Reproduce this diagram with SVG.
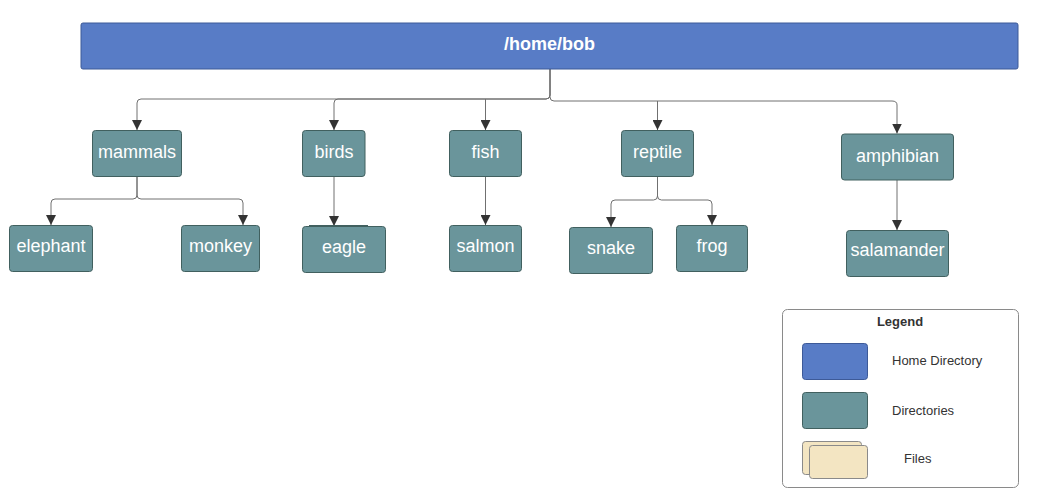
<svg xmlns="http://www.w3.org/2000/svg" width="1039" height="503" viewBox="0 0 1039 503">
<style>
.dir{fill:#6a959b;stroke:#41605f;stroke-width:1}
.home{fill:#587cc6;stroke:#3d5a98;stroke-width:1}
.file{fill:#f3e5c2;stroke:#8a8a8a;stroke-width:1}
.lbl{font-family:"Liberation Sans",Arial,sans-serif;font-size:18px;fill:#ffffff;text-anchor:middle;dominant-baseline:central}
.conn{fill:none;stroke:#707070;stroke-width:1}
.leg{font-family:"Liberation Sans",Arial,sans-serif;font-size:13px;fill:#333333;dominant-baseline:central}
</style>
<defs>
<marker id="arr" viewBox="0 0 10 10" refX="10" refY="5" markerWidth="10" markerHeight="10" markerUnits="userSpaceOnUse" orient="auto">
<path d="M0,0 L10,5 L0,10 Z" fill="#333333"/>
</marker>
</defs>
<rect width="1039" height="503" fill="#ffffff"/>
<g id="connectors">
<path class="conn" marker-end="url(#arr)" d="M550,69 L550,95 Q550,99 546,99 L141,99 Q137,99 137,103 L137,130"/>
<path class="conn" marker-end="url(#arr)" d="M550,69 L550,95 Q550,99 546,99 L338,99 Q334,99 334,103 L334,130"/>
<path class="conn" marker-end="url(#arr)" d="M485.5,99 L485.5,130"/>
<path class="conn" marker-end="url(#arr)" d="M550,69 L550,97 Q550,101 554,101 L892,101 Q897,101 897,105 L897,133.5"/>
<path class="conn" marker-end="url(#arr)" d="M657.5,101 L657.5,130"/>
<path class="conn" marker-end="url(#arr)" d="M137,176 L137,195 Q137,199 133,199 L55,199 Q51,199 51,203 L51,225"/>
<path class="conn" marker-end="url(#arr)" d="M137,176 L137,195 Q137,199 141,199 L239,199 Q243,199 243,203 L243,225"/>
<path class="conn" marker-end="url(#arr)" d="M334,176 L334,226"/>
<path class="conn" marker-end="url(#arr)" d="M485.5,176 L485.5,225"/>
<path class="conn" marker-end="url(#arr)" d="M657.5,176 L657.5,196 Q657.5,200 653.5,200 L615,200 Q611,200 611,204 L611,227"/>
<path class="conn" marker-end="url(#arr)" d="M657.5,176 L657.5,196 Q657.5,200 661.5,200 L708,200 Q712,200 712,204 L712,225"/>
<path class="conn" marker-end="url(#arr)" d="M897,180 L897,230"/>
</g>
<g id="home"><rect class="home" x="81" y="23" width="937" height="46" rx="2"/><text class="lbl" x="549.5" y="44" font-weight="bold">/home/bob</text></g>
<g id="mammals"><rect class="dir" x="92.5" y="130.5" width="89" height="46" rx="3"/><text class="lbl" x="137" y="152">mammals</text></g>
<g id="birds"><rect class="dir" x="302.5" y="130.5" width="62.5" height="46" rx="3"/><text class="lbl" x="334" y="152">birds</text></g>
<g id="fish"><rect class="dir" x="449.5" y="130.5" width="72" height="46" rx="3"/><text class="lbl" x="485.5" y="152">fish</text></g>
<g id="reptile"><rect class="dir" x="621.5" y="130.5" width="72" height="46" rx="3"/><text class="lbl" x="657.5" y="152">reptile</text></g>
<g id="amphibian"><rect class="dir" x="841.5" y="134" width="112" height="46" rx="3"/><text class="lbl" x="897.5" y="156">amphibian</text></g>
<g id="elephant"><rect class="dir" x="9.5" y="225.5" width="83" height="46" rx="3"/><text class="lbl" x="51" y="246">elephant</text></g>
<g id="monkey"><rect class="dir" x="181.5" y="225.5" width="78" height="46" rx="3"/><text class="lbl" x="220.5" y="246">monkey</text></g>
<g id="eagle"><line x1="309" y1="225.5" x2="368" y2="225.5" stroke="#41605f" stroke-width="1"/><rect class="dir" x="302.5" y="226.5" width="83" height="46" rx="3"/><text class="lbl" x="344" y="247">eagle</text></g>
<g id="salmon"><rect class="dir" x="449.5" y="225.5" width="72" height="46" rx="3"/><text class="lbl" x="485.5" y="246">salmon</text></g>
<g id="snake"><rect class="dir" x="569.5" y="227.5" width="83" height="46" rx="3"/><text class="lbl" x="611" y="248">snake</text></g>
<g id="frog"><rect class="dir" x="676.5" y="225.5" width="71" height="46" rx="3"/><text class="lbl" x="712" y="246">frog</text></g>
<g id="salamander"><rect class="dir" x="846.5" y="230.5" width="102" height="46" rx="3"/><text class="lbl" x="897.5" y="250">salamander</text></g>
<g id="legend">
<rect x="782.5" y="309.5" width="236" height="178" rx="5" fill="#ffffff" stroke="#8a8a8a" stroke-width="1"/>
<text class="leg" x="900" y="321" text-anchor="middle" font-weight="bold" fill="#222222">Legend</text>
<rect class="home" x="802.5" y="343.5" width="65" height="36" rx="3"/>
<text class="leg" x="892" y="360.5">Home Directory</text>
<rect class="dir" x="802.5" y="392.5" width="65" height="36" rx="3"/>
<text class="leg" x="892" y="410">Directories</text>
<rect class="file" x="802.5" y="441.5" width="59" height="33" rx="3"/>
<rect class="file" x="809.5" y="445.5" width="58" height="33" rx="3"/>
<text class="leg" x="904" y="458.5">Files</text>
</g>
</svg>
